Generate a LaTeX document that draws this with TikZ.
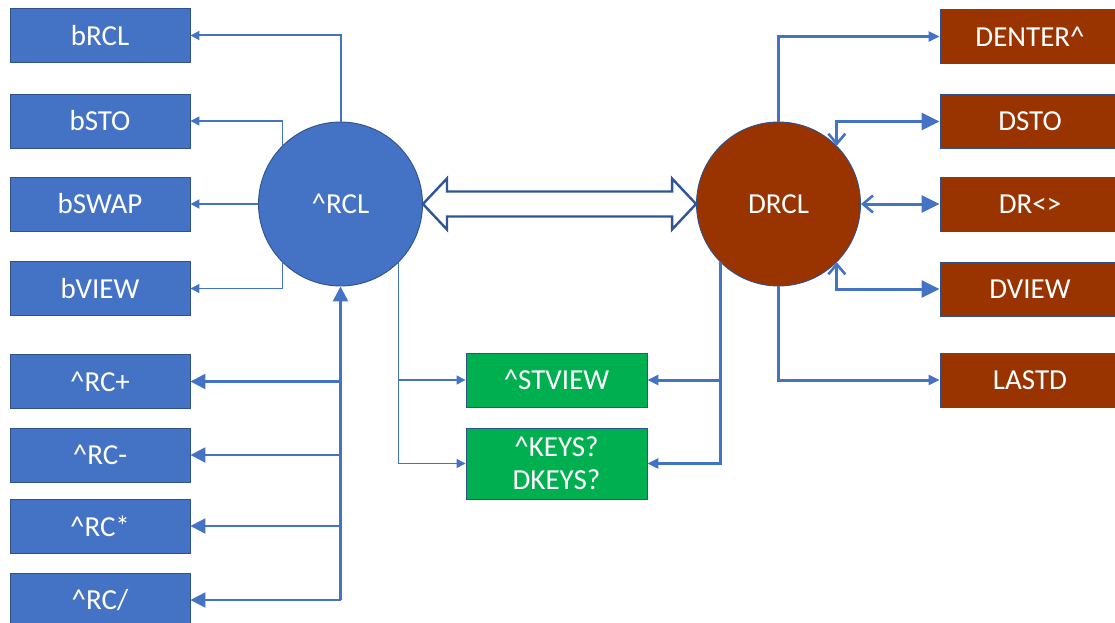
\documentclass[tikz,border=0pt]{standalone}
\usepackage{fontspec}
\setmainfont{Carlito}
\usetikzlibrary{arrows.meta, calc}

\definecolor{accblue}{HTML}{4472C4}
\definecolor{edgeblue}{HTML}{2F528F}
\definecolor{rustred}{HTML}{993300}
\definecolor{keygreen}{HTML}{00B050}
\definecolor{swapblue}{HTML}{2F5597}

\newcommand{\crt}{\textasciicircum}

\begin{document}
\begin{tikzpicture}[
    x=1pt, y=-1pt,
    box/.style={draw=edgeblue, line width=0.9pt, minimum height=54pt, minimum width=180pt,
                inner sep=0pt, align=center, text=white, font=\fontsize{29}{33}\selectfont},
    reg/.style={circle, draw=edgeblue, line width=0.9pt, minimum size=164pt, inner sep=0pt,
                text=white, font=\fontsize{29}{33}\selectfont},
    link/.style={accblue, line width=2pt},
    fine/.style={accblue, line width=1.3pt},
    bold/.style={accblue, line width=3pt},
    tipS/.style={-{Triangle[length=9pt,width=9pt]}},
    tipM/.style={-{Triangle[length=11pt,width=10pt]}},
    tipL/.style={-{Triangle[length=15pt,width=15pt]}},
    both/.style={{Straight Barb[length=10pt,width=17pt,line width=2.6pt]}-{Triangle[length=18pt,width=17pt]}}
]
\useasboundingbox (0,0) rectangle (1115,623);

% left column
\node[box, fill=accblue] (brcl)    at (100,35.5) {bRCL};
\node[box, fill=accblue] (bsto)    at (100,121)  {bSTO};
\node[box, fill=accblue] (bswap)   at (100,204)  {bSWAP};
\node[box, fill=accblue] (bview)   at (100,288.5){bVIEW};
\node[box, fill=accblue] (rcplus)  at (100,381.5){\crt RC+};
\node[box, fill=accblue] (rcminus) at (100,455)  {\crt RC-};
\node[box, fill=accblue] (rctimes) at (100,526)  {\crt RC*};
\node[box, fill=accblue] (rcdiv)   at (100,600)  {\crt RC/};

% the two registers
\node[reg, fill=accblue] (rcl)  at (340.5,204) {\crt RCL};
\node[reg, fill=rustred] (drcl) at (778.5,204) {DRCL};

% right column
\node[box, fill=rustred] (denter) at (1030,36.5) {DENTER\crt};
\node[box, fill=rustred] (dsto)   at (1030,121.5){DSTO};
\node[box, fill=rustred] (dswap)  at (1030,204)  {DR<>};
\node[box, fill=rustred] (dview)  at (1030,289)  {DVIEW};
\node[box, fill=rustred] (lastd)  at (1030,380)  {LASTD};

% shared
\node[box, fill=keygreen, minimum width=181pt] (stview) at (556.5,380)   {\crt STVIEW};
\node[box, fill=keygreen, minimum width=181pt, minimum height=71pt] (keys) at (556.5,463.5) {\crt KEYS?\\DKEYS?};

% hollow double arrow between the registers
\draw[swapblue, line width=2.4pt, fill=white, line join=miter]
    (rcl.east) -- ++(24,-25.5) -- ++(0,13)
    -- ($(drcl.west)+(-24,-12.5)$) -- ++(0,-13) -- (drcl.west)
    -- ++(-24,25.5) -- ++(0,-13)
    -- ($(rcl.east)+(24,12.5)$) -- ++(0,13) -- cycle;

% ^RCL outputs
\draw[link, tipS] (rcl.north) |- (brcl.east);
\draw[fine, tipS] (rcl.135) |- (bsto.east);
\draw[link, tipS] (rcl.west) -- (bswap.east);
\draw[fine, tipS] (rcl.225) |- (bview.east);
\draw[fine, tipS] (rcl.-45) |- (stview.west);
\draw[fine, tipS] (rcl.-45) |- (keys.west);

% arithmetic recalls feed ^RCL
\coordinate (trunk) at (rcl.south |- rcdiv.east);
\draw[accblue, line width=2.4pt, tipL] (trunk) -- (rcl.south);
\foreach \b in {rcplus, rcminus, rctimes, rcdiv}
    \draw[accblue, line width=2.4pt, tipL] (rcl.south |- \b.east) -- (\b.east);

% DRCL links
\draw[bold, tipM] (drcl.north) |- (denter.west);
\draw[bold, both] (drcl.45) |- (dsto.west);
\draw[bold, both] (drcl.east) -- (dswap.west);
\draw[bold, both] (drcl.-45) |- (dview.west);
\draw[bold, tipM] (drcl.south) |- (lastd.west);
\draw[bold, tipM] (drcl.225) |- (stview.east);
\draw[bold, tipM] (drcl.225) |- (keys.east);
\end{tikzpicture}
\end{document}
